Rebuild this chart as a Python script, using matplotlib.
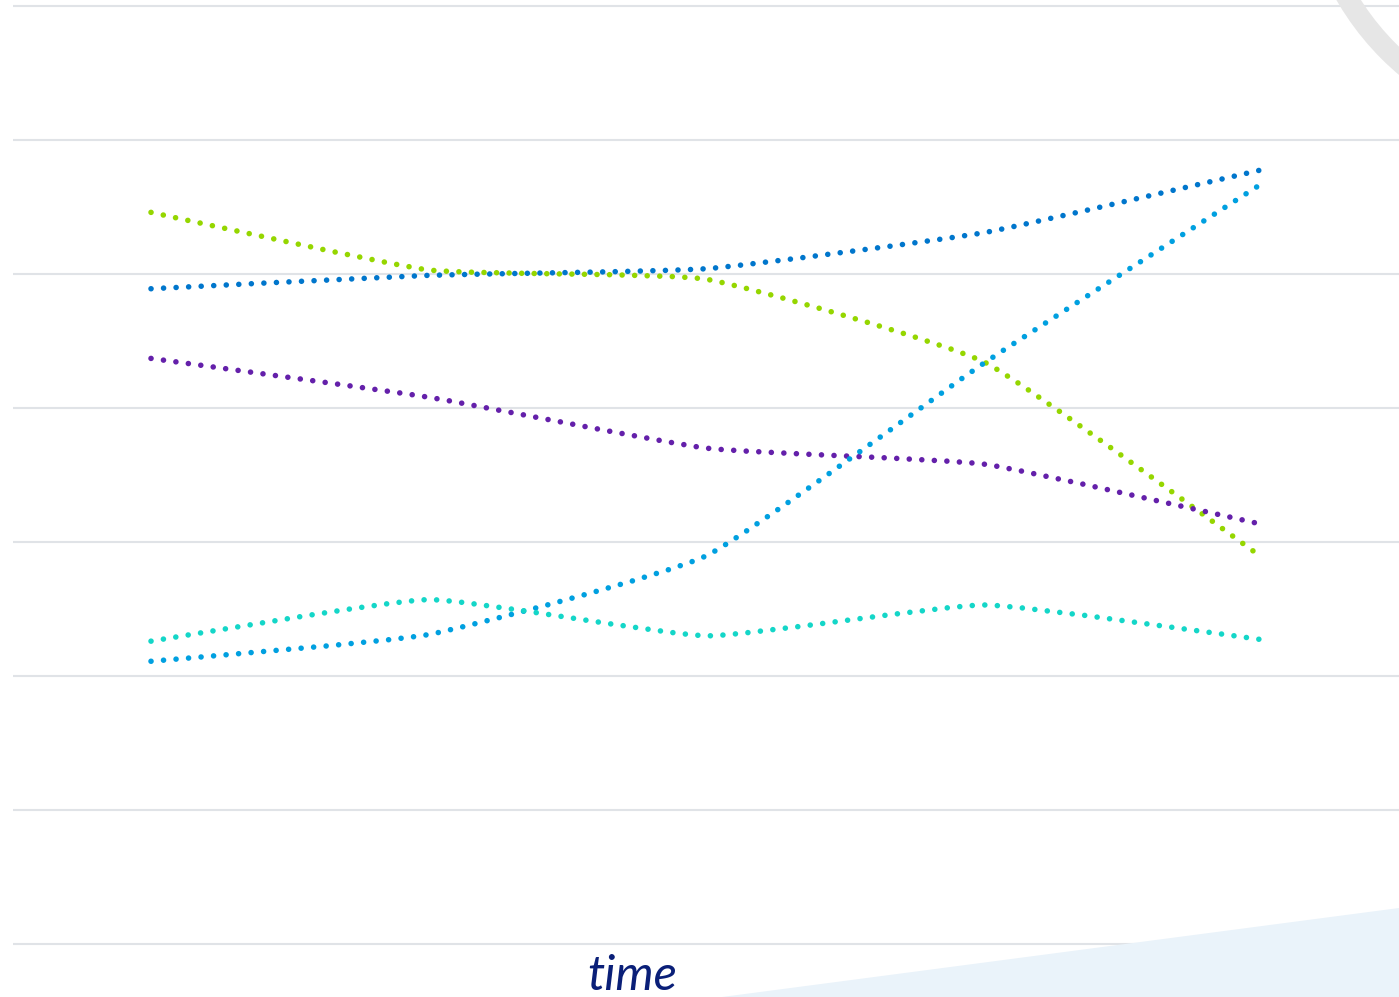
import matplotlib
matplotlib.use("Agg")
import matplotlib.pyplot as plt
import numpy as np
from matplotlib.path import Path
from matplotlib.patches import PathPatch, Wedge, Polygon
from matplotlib.transforms import IdentityTransform

# Five time steps, five series
periods = [0, 1, 2, 3, 4]
series_green = [5.46, 5.03, 4.96, 4.34, 2.88]
series_blue = [4.89, 4.99, 5.04, 5.31, 5.78]
series_purple = [4.37, 4.08, 3.70, 3.58, 3.13]
series_sky = [2.11, 2.31, 2.90, 4.34, 5.68]
series_teal = [2.26, 2.57, 2.30, 2.53, 2.27]

colors = {
    "green": "#95d600",
    "blue": "#0076cc",
    "purple": "#6420aa",
    "sky": "#00a0e0",
    "teal": "#14d6c8",
}

W, H = 1399, 997
fig = plt.figure(figsize=(W / 100, H / 100), dpi=100)
fig.patch.set_facecolor("white")

# Background decorations (pixel coordinates, origin bottom-left)
tri = Polygon([(722, 0), (W, 0), (W, H - 908)], closed=True,
              facecolor="#eaf3fa", edgecolor="none", transform=IdentityTransform(), zorder=0)
fig.patches.append(tri)
arc = Wedge((1580, H + 140), 281, 0, 360, width=21, facecolor="#e6e6e6",
            edgecolor="none", transform=IdentityTransform(), zorder=0)
fig.patches.append(arc)

ax = fig.add_axes([13 / W, 0, 1 - 13 / W, 1])
ax.set_facecolor("none")
ax.set_xlim((13 - 151) / 278, (W - 151) / 278)
ax.set_ylim((944 - H) / 134, 944 / 134)
ax.set_yticks(range(0, 8))
ax.set_xticks([])
ax.tick_params(left=False, labelleft=False, bottom=False, labelbottom=False)
for s in ax.spines.values():
    s.set_visible(False)
ax.grid(axis="y", color="#e0e3e7", linewidth=1.5)
ax.set_axisbelow(True)


def smooth_path(xs, ys, k=0.07):
    """Polyline with lightly rounded corners (cubic Bezier segments)."""
    pts = np.column_stack([xs, ys]).astype(float)
    n = len(pts)
    verts = [pts[0]]
    codes = [Path.MOVETO]
    for i in range(n - 1):
        p0 = pts[max(i - 1, 0)]
        p1 = pts[i]
        p2 = pts[i + 1]
        p3 = pts[min(i + 2, n - 1)]
        c1 = p1 + (p2 - p0) * k
        c2 = p2 - (p3 - p1) * k
        verts += [c1, c2, p2]
        codes += [Path.CURVE4] * 3
    return Path(verts, codes)


for ys, key in [(series_green, "green"), (series_blue, "blue"),
                (series_purple, "purple"), (series_sky, "sky"),
                (series_teal, "teal")]:
    patch = PathPatch(smooth_path(periods, ys), fill=False, edgecolor=colors[key],
                      linewidth=4, linestyle=(0, (0.01, 2.25)), capstyle="round",
                      zorder=3)
    ax.add_patch(patch)

fig.text(632 / W, 1 - 990 / H, "time", ha="center", va="baseline",
         fontsize=35, style="italic", color="#0a1f78", family="Lato")

fig.savefig("out.png", dpi=100, facecolor="white")
